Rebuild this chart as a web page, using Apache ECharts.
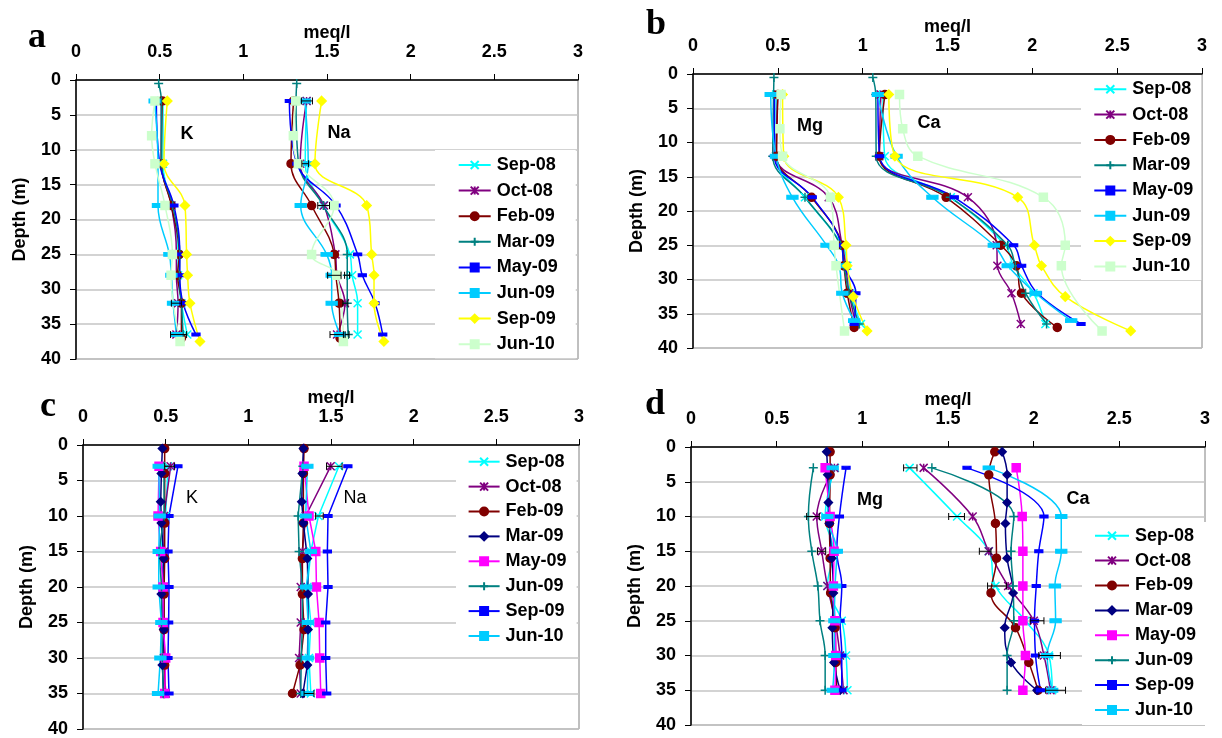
<!DOCTYPE html>
<html><head><meta charset="utf-8">
<script src="https://cdn.jsdelivr.net/npm/echarts@6/dist/echarts.min.js"></script>
<style>html,body{margin:0;padding:0;background:#fff}#c{width:1222px;height:738px}</style>
</head><body><div id="c"></div>
<script>
// ---------------- DATA ----------------
const dates = ['Sep-08','Oct-08','Feb-09','Mar-09','May-09','Jun-09','Sep-09','Jun-10'];
const depthTicks = [0,5,10,15,20,25,30,35,40];
const meqTicks = [0,0.5,1,1.5,2,2.5,3];

// Panel a (K, Na)
const aDepth = [
  [3,12,18,25,28,32,36.5],
  [3,12,18,25,28,32,36.5],
  [3,12,18,25,28,32,37],
  [0.5,3,12,18,25,28,32,36.5],
  [3,12,18,25,28,32,36.5],
  [3,12,18,25,28,32,36.5],
  [3,12,18,25,28,32,37.5],
  [3,8,12,18,25,28,37.5]
];
const aK = [
  [0.52,0.52,0.57,0.61,0.61,0.63,0.665],
  [0.51,0.51,0.57,0.60,0.60,0.61,0.60],
  [0.515,0.51,0.57,0.617,0.607,0.63,0.63],
  [0.494,0.51,0.51,0.578,0.62,0.618,0.63,0.64],
  [0.48,0.50,0.585,0.62,0.62,0.64,0.717],
  [0.47,0.49,0.49,0.558,0.57,0.58,0.60],
  [0.546,0.526,0.651,0.661,0.667,0.681,0.741],
  [0.472,0.452,0.472,0.532,0.576,0.568,0.622]
];
const aNa = [
  [1.378,1.37,1.478,1.637,1.65,1.683,1.683],
  [1.378,1.34,1.482,1.55,1.56,1.607,1.56],
  [1.30,1.285,1.408,1.544,1.553,1.572,1.578],
  [1.319,1.315,1.33,1.478,1.621,1.621,1.621,1.627],
  [1.275,1.32,1.554,1.683,1.711,1.787,1.833],
  [1.368,1.388,1.343,1.498,1.528,1.528,1.578],
  [1.468,1.428,1.737,1.767,1.781,1.781,1.84],
  [1.313,1.299,1.329,1.542,1.408,1.558,1.598]
];
const aErr = [[0.613,36.5,0.048],[0.60,32,0.03],[1.38,3,0.033],[1.37,12,0.02],[1.48,18,0.035],[1.544,28,0.04],[1.62,28,0.015],[1.61,32,0.015],[1.558,36.5,0.04],[1.62,36.5,0.012]];

// Panel b (Mg, Ca)
const bDepth = [
  [3,12,18,25,28,32,36.5],
  [3,12,18,25,28,32,36.5],
  [3,12,18,25,28,32,37],
  [0.5,3,12,18,25,28,32,36.5],
  [3,12,18,25,28,32,36.5],
  [3,12,18,25,28,32,36],
  [3,12,18,25,28,32.5,37.5],
  [3,8,12,18,25,28,37.5]
];
const bMg = [
  [0.49,0.49,0.66,0.88,0.91,0.93,0.99],
  [0.50,0.49,0.80,0.88,0.90,0.92,0.96],
  [0.50,0.493,0.699,0.879,0.89,0.909,0.95],
  [0.477,0.475,0.47,0.66,0.87,0.89,0.92,0.98],
  [0.48,0.48,0.703,0.877,0.89,0.96,0.95],
  [0.458,0.49,0.586,0.787,0.86,0.88,0.95],
  [0.528,0.535,0.857,0.902,0.909,0.944,1.026],
  [0.519,0.512,0.528,0.81,0.832,0.843,0.893]
];
const bCa = [
  [1.12,1.13,1.52,1.84,1.89,2.007,2.077],
  [1.107,1.098,1.62,1.79,1.794,1.877,1.932],
  [1.131,1.098,1.492,1.814,1.906,1.936,2.147],
  [1.06,1.077,1.08,1.516,1.855,1.9,1.96,2.084],
  [1.09,1.10,1.54,1.89,1.937,2.03,2.287],
  [1.09,1.2,1.411,1.773,1.855,2.019,2.229],
  [1.154,1.19,1.914,2.012,2.054,2.194,2.58],
  [1.217,1.236,1.325,2.065,2.194,2.171,2.411]
];
const bErr = [];

// Panel c (K, Na)
const cDepth = [
  [3,10,15,20,25,30,35],
  [3,10,15,20,25,30,35],
  [0.5,4,11,16,21,26,31,35],
  [0.5,4,8,11,16,21,26,31,35],
  [3,10,15,20,25,30,35],
  [3,10,15,20,25,30,35],
  [3,10,15,20,25,30,35],
  [3,10,15,20,25,30,35]
];
const cK = [
  [0.514,0.50,0.47,0.49,0.49,0.49,0.50],
  [0.53,0.49,0.49,0.49,0.49,0.49,0.50],
  [0.494,0.494,0.494,0.494,0.49,0.49,0.494,0.494],
  [0.48,0.474,0.47,0.474,0.488,0.474,0.488,0.48,0.488],
  [0.46,0.454,0.47,0.484,0.484,0.50,0.494],
  [0.49,0.49,0.46,0.475,0.475,0.48,0.485],
  [0.574,0.52,0.514,0.52,0.518,0.514,0.52],
  [0.458,0.464,0.458,0.458,0.474,0.468,0.454]
];
const cNa = [
  [1.548,1.424,1.378,1.357,1.378,1.367,1.378],
  [1.498,1.347,1.327,1.317,1.317,1.307,1.317],
  [1.337,1.333,1.333,1.327,1.327,1.337,1.313,1.267],
  [1.333,1.327,1.323,1.333,1.357,1.361,1.361,1.357,1.33],
  [1.337,1.367,1.408,1.412,1.428,1.432,1.438],
  [1.33,1.301,1.307,1.327,1.327,1.32,1.317],
  [1.602,1.482,1.478,1.482,1.468,1.468,1.474],
  [1.357,1.347,1.378,1.35,1.361,1.361,1.357]
];
const cErr = [[0.524,3,0.03],[1.52,3,0.047],[1.43,10,0.023],[1.367,35,0.03]];

// Panel d (Mg, Ca)
const dDepth = [
  [3,10,15,20,25,30,35],
  [3,10,15,20,25,30,35],
  [0.7,4,11,16,21,26,31,35],
  [0.7,4,8,11,16,21,26,31,35],
  [3,10,15,20,25,30,35],
  [3,10,15,20,25,30,35],
  [3,10,15,20,25,30,35],
  [3,10,15,20,25,30,35]
];
const dMg = [
  [0.84,0.783,0.83,0.796,0.88,0.905,0.913],
  [0.837,0.734,0.763,0.796,0.841,0.87,0.89],
  [0.812,0.812,0.808,0.812,0.815,0.841,0.845,0.85],
  [0.792,0.798,0.802,0.808,0.822,0.831,0.825,0.835,0.87],
  [0.783,0.812,0.835,0.831,0.84,0.845,0.84],
  [0.714,0.685,0.705,0.74,0.753,0.783,0.783],
  [0.905,0.866,0.851,0.88,0.87,0.88,0.88],
  [0.827,0.796,0.851,0.841,0.837,0.837,0.827]
];
const dCa = [
  [1.276,1.553,1.738,1.777,1.952,2.089,2.108],
  [1.358,1.644,1.738,1.851,2.001,2.06,2.098],
  [1.773,1.738,1.777,1.783,1.751,1.894,1.972,2.026],
  [1.816,1.845,1.845,1.835,1.845,1.88,1.831,1.868,2.02],
  [1.898,1.933,1.937,1.937,1.937,1.952,1.937],
  [1.406,1.884,1.868,1.88,1.884,1.845,1.845],
  [1.611,2.06,2.03,2.015,2.005,2.011,2.04],
  [1.738,2.161,2.161,2.124,2.128,2.079,2.108]
];
const dErr = [[1.28,3,0.039],[1.55,10,0.046],[1.717,15,0.034],[1.786,20,0.055],[2.02,25,0.04],[2.093,30,0.063],[2.128,35,0.058],[0.712,10,0.037],[0.762,15,0.024]];

// ---------------- STYLE ----------------
const FONT = '"Liberation Sans", Arial, sans-serif';
const X = 'path://M0,0L10,10M10,0L0,10';
const STAR = 'path://M5,0L5,10M0,0L10,10M10,0L0,10';
const PLUS = 'path://M5,0L5,10M0,5L10,5';
const stylesAB = [
  {c:'#00FFFF', s:X, z:8},
  {c:'#800080', s:STAR, z:8},
  {c:'#800000', s:'circle', z:8},
  {c:'#008080', s:PLUS, z:9},
  {c:'#0000FF', s:'rect', z:[7,3]},
  {c:'#00CCFF', s:'rect', z:[10,4]},
  {c:'#FFFF00', s:'diamond', z:9},
  {c:'#CCFFCC', s:'rect', z:8}
];
const stylesCD = [
  {c:'#00FFFF', s:X, z:8},
  {c:'#800080', s:STAR, z:8},
  {c:'#800000', s:'circle', z:8},
  {c:'#000080', s:'diamond', z:8},
  {c:'#FF00FF', s:'rect', z:8},
  {c:'#008080', s:PLUS, z:9},
  {c:'#0000FF', s:'rect', z:[7,3]},
  {c:'#00CCFF', s:'rect', z:[10,4]}
];

const panels = [
  {id:'a', grid:{left:76, top:80, width:502, height:279}, depth:aDepth, v1:aK, v2:aNa, err:aErr, st:stylesAB, smooth:0.4,
   legend:{left:435, top:150, padding:[6,18,5,22.7], gap:7.6, iw:32},
   labels:[['K',187,134,'bold'],['Na',339,133,'bold']], tag:['a',37,38]},
  {id:'b', grid:{left:693, top:74, width:509, height:274}, depth:bDepth, v1:bMg, v2:bCa, err:bErr, st:stylesAB, smooth:0.4,
   legend:{left:1081, top:75, padding:[5.3,8,4.6,12.3], gap:7.3, iw:32},
   labels:[['Mg',810,126,'bold'],['Ca',929,123,'bold']], tag:['b',656,25]},
  {id:'c', grid:{left:83, top:445, width:496, height:290}, depth:cDepth, v1:cK, v2:cNa, err:cErr, st:stylesCD, smooth:false,
   legend:{left:456, top:447, padding:[5.7,10,2,11.6], gap:6.9, iw:31},
   labels:[['K',192,498,'normal'],['Na',355,498,'normal']], tag:['c',48,407]},
  {id:'d', grid:{left:691, top:447, width:514, height:278}, depth:dDepth, v1:dMg, v2:dCa, err:dErr, st:stylesCD, smooth:0.4,
   legend:{left:1082, top:522, padding:[4.7,18,6,12], gap:6.9, iw:34},
   labels:[['Mg',870,500,'bold'],['Ca',1078,499,'bold']], tag:['d',655,405]}
];

const grids=[], xAxes=[], yAxes=[], series=[], legends=[], graphics=[];
panels.forEach((p, pi) => {
  grids.push(Object.assign({show:true, borderColor:'#808080', borderWidth:1, containLabel:false}, p.grid));
  xAxes.push({type:'value', gridIndex:pi, position:'top', min:meqTicks[0], max:meqTicks[meqTicks.length-1], interval:0.5,
    name:'meq/l', nameLocation:'middle', nameGap:37,
    nameTextStyle:{fontFamily:FONT, fontWeight:'bold', fontSize:18, color:'#000'},
    axisLine:{show:true, onZero:false, lineStyle:{color:'#000', width:1.5}},
    axisTick:{show:true, length:6, lineStyle:{color:'#000'}},
    axisLabel:{margin:19, fontFamily:FONT, fontWeight:'bold', fontSize:18, color:'#000'},
    splitLine:{show:false}});
  yAxes.push({type:'value', gridIndex:pi, inverse:true, min:depthTicks[0], max:depthTicks[depthTicks.length-1], interval:5,
    name:'Depth (m)', nameLocation:'middle', nameGap:47,
    nameTextStyle:{fontFamily:FONT, fontWeight:'bold', fontSize:18, color:'#000'},
    axisLine:{show:true, onZero:false, lineStyle:{color:'#000', width:1.5}},
    axisTick:{show:true, length:6, lineStyle:{color:'#000'}},
    axisLabel:{margin:15, fontFamily:FONT, fontWeight:'bold', fontSize:18, color:'#000'},
    splitLine:{show:true, lineStyle:{color:'#c4c4c4', width:1.5}}});
  const names = dates.map(d => d + '|' + p.id);
  [p.v1, p.v2].forEach(vals => {
    dates.forEach((d, i) => {
      const st = p.st[i];
      series.push({type:'line', name:names[i], xAxisIndex:pi, yAxisIndex:pi,
        data: p.depth[i].map((dep, j) => [vals[i][j], dep]),
        smooth:p.smooth, symbol:st.s, symbolSize:st.z, showSymbol:true,
        lineStyle:{color:st.c, width:1.5},
        itemStyle:{color:st.c, borderColor:st.c, borderWidth:1.5},
        emphasis:{disabled:true}, animation:false, z:2});
    });
  });
  series.push({type:'custom', name:'err'+p.id, xAxisIndex:pi, yAxisIndex:pi, data:p.err, z:3, animation:false,
    renderItem:(params, api) => {
      const v = api.value(0), dep = api.value(1), e = api.value(2);
      const p1 = api.coord([v-e, dep]), p2 = api.coord([v+e, dep]);
      const h = 3.5, st = {stroke:'#000', lineWidth:1};
      return {type:'group', children:[
        {type:'line', shape:{x1:p1[0], y1:p1[1], x2:p2[0], y2:p2[1]}, style:st},
        {type:'line', shape:{x1:p1[0], y1:p1[1]-h, x2:p1[0], y2:p1[1]+h}, style:st},
        {type:'line', shape:{x1:p2[0], y1:p2[1]-h, x2:p2[0], y2:p2[1]+h}, style:st}
      ]};
    }});
  const L = p.legend;
  legends.push({orient:'vertical', left:L.left, top:L.top, padding:L.padding, itemGap:L.gap,
    itemWidth:L.iw, itemHeight:10, backgroundColor:'#fff', data:names, selectedMode:false,
    formatter: n => n.split('|')[0],
    textStyle:{fontFamily:FONT, fontWeight:'bold', fontSize:18, lineHeight:18, color:'#000', padding:[0,0,0,1]}});
  p.labels.forEach(l => graphics.push({type:'text', x:l[1], y:l[2], z:10,
    style:{text:l[0], font:l[3]+' 18px '+FONT, fill:'#000', align:'center', verticalAlign:'middle'}}));
  graphics.push({type:'text', x:p.tag[1], y:p.tag[2], z:10,
    style:{text:p.tag[0], font:'bold 36px "Liberation Serif", "Times New Roman", serif', fill:'#000', align:'center', verticalAlign:'middle'}});
});

const chart = echarts.init(document.getElementById('c'), null, {renderer:'canvas'});
chart.setOption({animation:false, backgroundColor:'#fff', grid:grids, xAxis:xAxes, yAxis:yAxes,
  series:series, legend:legends, graphic:graphics});
</script></body></html>
